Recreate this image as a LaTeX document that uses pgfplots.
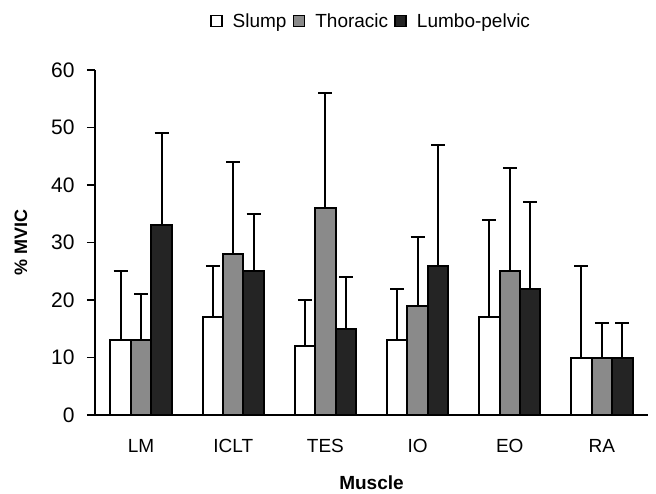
\documentclass[border=0pt]{standalone}
\usepackage{pgfplots}
\pgfplotsset{compat=1.18}
\usepackage{pgfplotstable}
\usepackage{fontspec}
\setmainfont{Liberation Sans}
\definecolor{midgray}{HTML}{8A8A8A}
\definecolor{nearblack}{HTML}{242424}

\pgfplotstableread{
x  s  se  t  te  l  le
0  13 12  13 8   33 16
1  17 9   28 16  25 10
2  12 8   36 20  15 9
3  13 9   19 12  26 21
4  17 17  25 18  22 15
5  10 16  10 6   10 6
}\musc

\begin{document}
\begin{tikzpicture}
\begin{axis}[
  scale only axis,
  width=553pt, height=345pt,
  xmin=-0.5, xmax=5.5,
  ymin=0, ymax=60,
  ytick={0,10,...,60},
  xtick={0,...,5},
  xticklabels={LM,ICLT,TES,IO,EO,RA},
  major x tick style={draw=none},
  extra x ticks={-0.5,0.5,...,5.5},
  extra x tick labels={},
  extra x tick style={major tick length=8pt, tick style={line width=1.6pt, black}},
  axis x line*=bottom,
  axis y line*=left,
  axis line style={line width=1.6pt, -},
  tick align=outside,
  major tick length=8pt,
  tick style={line width=1.6pt, black},
  /pgf/number format/assume math mode=true,
  yticklabel style={font=\fontsize{21}{21}\selectfont, anchor=east, xshift=-9pt},
  xticklabel style={font=\fontsize{19}{19}\selectfont, anchor=center, yshift=-23pt},
  xlabel={\textbf{Muscle}},
  xlabel style={font=\fontsize{19}{19}\selectfont, at={(axis description cs:0.5,-0.197)}, anchor=center, inner sep=0pt},
  ylabel={\textbf{\% MVIC}},
  ylabel style={font=\fontsize{18}{18}\selectfont, at={(axis description cs:-0.134,0.5)}, anchor=center},
  ybar=0pt,
  bar width=0.222,
  legend columns=3,
  legend style={draw=none, at={(axis description cs:0.499,1.142)}, anchor=center,
    font=\fontsize{19}{19}\selectfont, inner sep=0pt,
    /tikz/every even column/.append style={column sep=4pt},
    /tikz/every odd column/.append style={column sep=8pt}},
  legend image code/.code={\draw[#1, line width=1.8pt] (0pt,-5.5pt) rectangle (11pt,5.5pt);},
  error bars/y dir=plus,
  error bars/y explicit,
  error bars/error bar style={line width=2pt, black},
  error bars/error mark options={rotate=90, mark size=7pt, line width=2pt, black},
]
\addplot[draw=black, line width=2pt, fill=white] table[x=x, y=s, y error=se] {\musc};
\addplot[draw=black, line width=2pt, fill=midgray] table[x=x, y=t, y error=te] {\musc};
\addplot[draw=black, line width=2pt, fill=nearblack] table[x=x, y=l, y error=le] {\musc};
\legend{Slump, Thoracic, Lumbo-pelvic}
\end{axis}
\pgfresetboundingbox
\path[use as bounding box] ([shift={(-95pt,-78pt)}]current axis.south west) rectangle ([shift={(8pt,70pt)}]current axis.north east);
\end{tikzpicture}
\end{document}
